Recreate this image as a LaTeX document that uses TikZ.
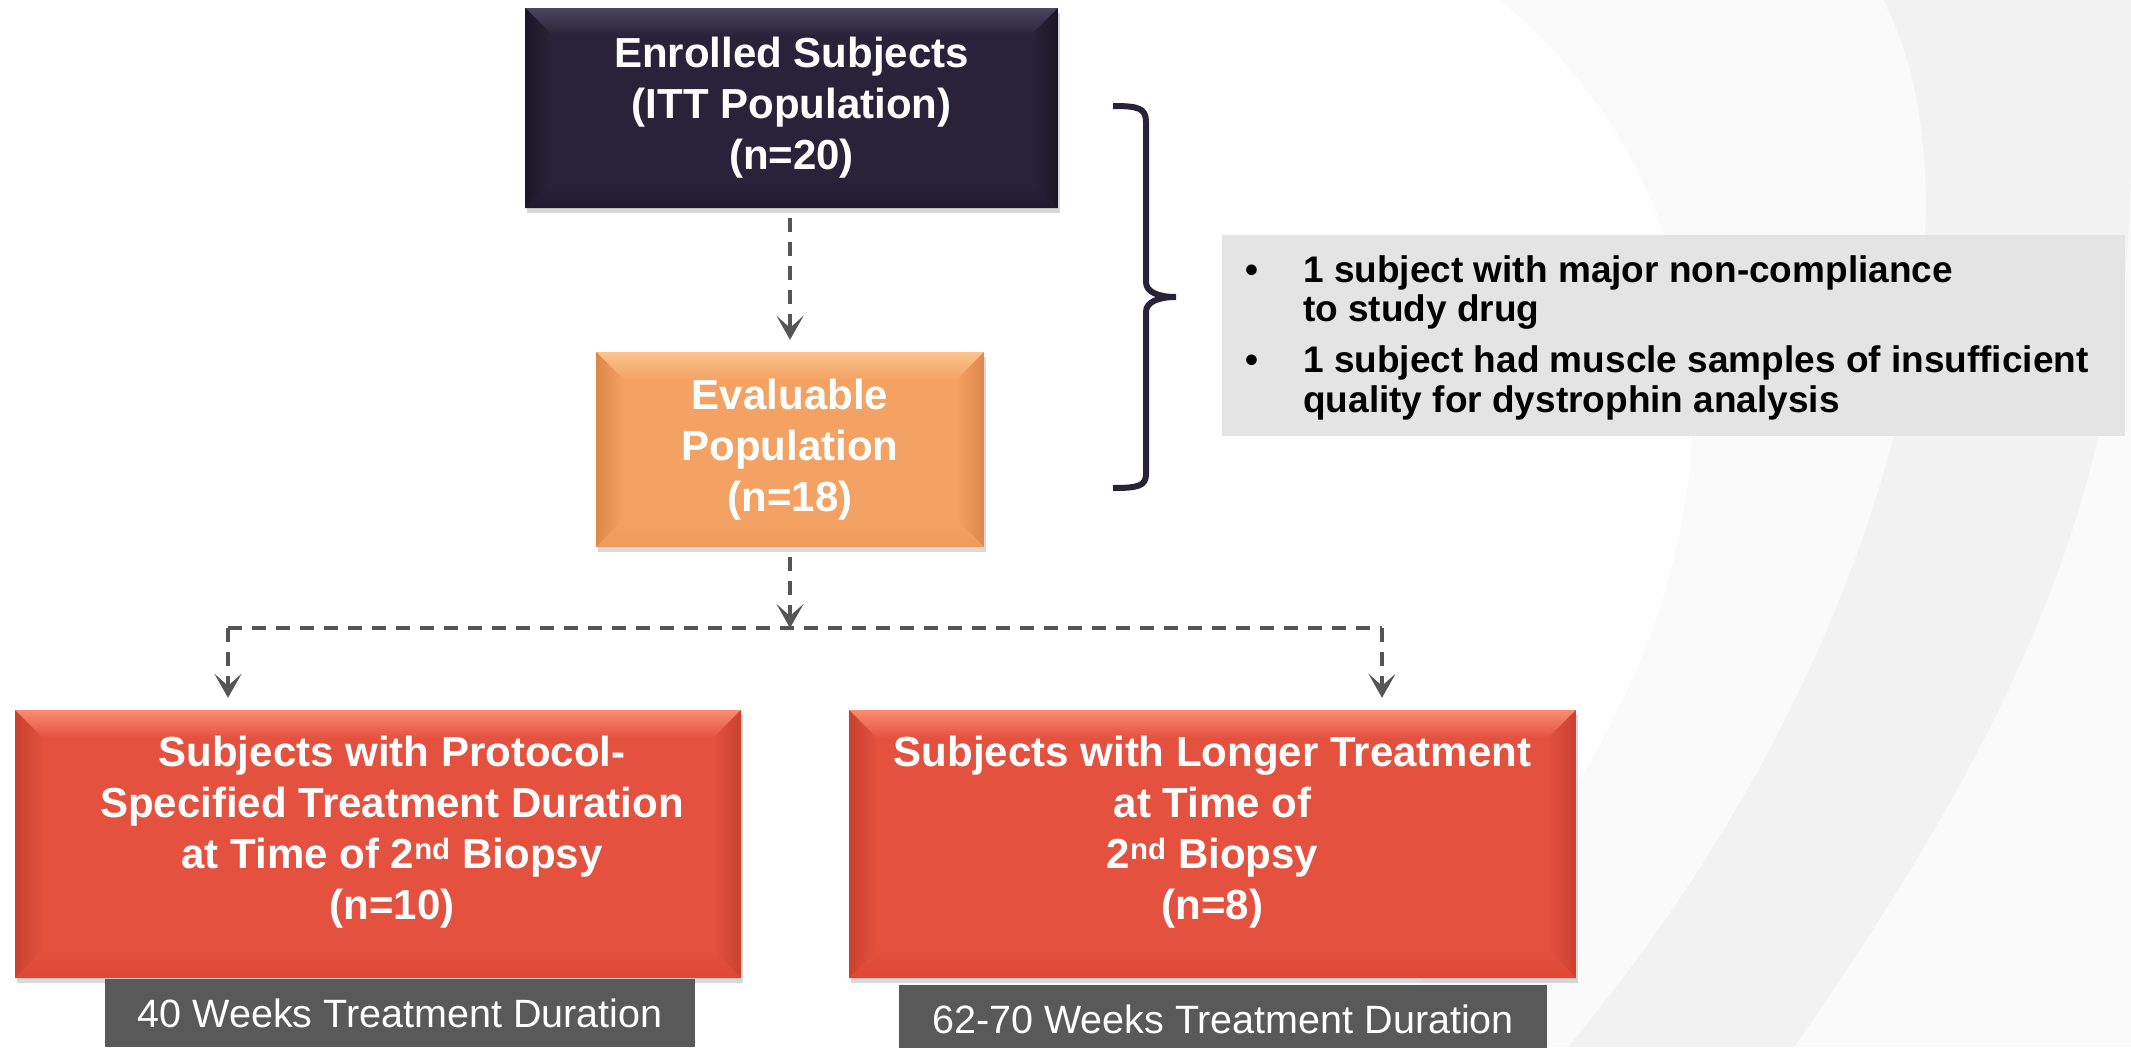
\documentclass[tikz,border=0pt]{standalone}
\usepackage{fontspec}
\setmainfont{Liberation Sans}
\usetikzlibrary{arrows.meta,shadows,calc}
\definecolor{navy}{HTML}{282339}
\definecolor{navytop}{HTML}{4A4560}
\definecolor{navyside}{HTML}{1B1727}
\definecolor{navybot}{HTML}{1F1B2E}
\definecolor{orbase}{HTML}{F4A263}
\definecolor{ortop}{HTML}{FAC38C}
\definecolor{orside}{HTML}{DD874B}
\definecolor{orbot}{HTML}{EE9A5B}
\definecolor{rdbase}{HTML}{E4513F}
\definecolor{rdtop}{HTML}{FA8C72}
\definecolor{rdside}{HTML}{C9412F}
\definecolor{rdbot}{HTML}{DD4733}
\definecolor{connc}{HTML}{555555}
\definecolor{lblgray}{HTML}{595959}
\definecolor{notegray}{HTML}{E4E4E4}
\begin{document}
\begin{tikzpicture}[x=1pt,y=-1pt,
  bevel/.style n args={5}{fill=#1, path picture={
     \def\bvs{28pt}
     \path (path picture bounding box.north west) coordinate (bvA)
           (path picture bounding box.north east) coordinate (bvB)
           (path picture bounding box.south east) coordinate (bvC)
           (path picture bounding box.south west) coordinate (bvD);
     \shade[top color=#2, bottom color=#1] (bvA) -- (bvB) -- ([shift={(-\bvs,-\bvs)}]bvB) -- ([shift={(\bvs,-\bvs)}]bvA) -- cycle;
     \shade[left color=#3, right color=#1] (bvA) -- ([shift={(\bvs,-\bvs)}]bvA) -- ([shift={(\bvs,\bvs)}]bvD) -- (bvD) -- cycle;
     \shade[right color=#3, left color=#1] (bvB) -- ([shift={(-\bvs,-\bvs)}]bvB) -- ([shift={(-\bvs,\bvs)}]bvC) -- (bvC) -- cycle;
     \shade[bottom color=#4, top color=#1] (bvD) -- ([shift={(\bvs,\bvs)}]bvD) -- ([shift={(-\bvs,\bvs)}]bvC) -- (bvC) -- cycle;
  }},
  mainbox/.style={rectangle, inner sep=0pt, align=center, text=white,
     font=\bfseries\fontsize{42}{51}\selectfont,
     drop shadow={opacity=0.3, shadow xshift=2pt, shadow yshift=-5pt}},
  lblbox/.style={rectangle, inner sep=0pt, fill=lblgray, text=white,
     font=\fontsize{39.5}{45}\selectfont},
  noteline/.style={anchor=base west, inner sep=0pt, font=\bfseries\fontsize{37}{40}\selectfont},
  dline/.style={draw=connc, line width=4pt, dash pattern=on 14pt off 10pt},
  conn/.style={dline, -{Stealth[length=24pt,width=27pt,inset=12pt]}}
]
\useasboundingbox (0,0) rectangle (2131,1047);
\fill[white] (0,0) rectangle (2131,1047);
% background swoosh
\fill[black!2] (1500,0) .. controls (1800,250) and (1750,700) .. (1350,1047) -- (2131,1047) -- (2131,0) -- cycle;
\fill[black!5] (1883,0) .. controls (1990,200) and (1900,650) .. (1568,1047)
   -- (1794,1047) .. controls (2000,750) and (2131,500) .. (2131,150) -- (2131,0) -- cycle;

% boxes
\node[mainbox, bevel={navy}{navytop}{navyside}{navybot}{},
      minimum width=533pt, minimum height=200pt] (enr) at (791.5,108)
      {Enrolled Subjects\\(ITT Population)\\(n=20)};
\node[mainbox, bevel={orbase}{ortop}{orside}{orbot}{},
      minimum width=388pt, minimum height=195pt] (eva) at (790,449.5)
      {Evaluable\\Population\\(n=18)};
\node[mainbox, bevel={rdbase}{rdtop}{rdside}{rdbot}{},
      minimum width=726pt, minimum height=268pt] (redL) at (378,844)
      {\hspace*{28pt}Subjects with Protocol-\\\hspace*{28pt}Specified Treatment Duration\\\hspace*{28pt}at Time of 2\textsuperscript{nd} Biopsy\\\hspace*{28pt}(n=10)\\[-19pt]};
\node[mainbox, bevel={rdbase}{rdtop}{rdside}{rdbot}{},
      minimum width=727pt, minimum height=268pt] (redR) at (1212.5,844)
      {Subjects with Longer Treatment\\at Time of\\2\textsuperscript{nd} Biopsy\\(n=8)\\[-19pt]};

% duration labels
\node[lblbox, minimum width=590pt, minimum height=68pt] (durL) at (400,1013)
      {40 Weeks Treatment Duration};
\node[lblbox, minimum width=648pt, minimum height=68pt] (durR) at (1223,1019)
      {62-70 Weeks Treatment Duration};

% note box
\node[rectangle, fill=notegray, inner sep=0pt, minimum width=903pt, minimum height=201pt] (note) at (1673.5,335.5) {};
\node[noteline, anchor=base] (b1) at (1252,282) {\textbullet};
\node[noteline] (n1) at (1303,282) {1 subject with major non-compliance};
\node[noteline] (n2) at (1303,321) {to study drug};
\node[noteline, anchor=base] (b2) at (1252,372) {\textbullet};
\node[noteline] (n3) at (1303,372) {1 subject had muscle samples of insufficient};
\node[noteline] (n4) at (1303,412) {quality for dystrophin analysis};

% brace
\draw[navy, line width=6pt, line join=miter]
  (1113,106) .. controls (1138,106) and (1146,108) .. (1146,122)
  -- (1146,282) .. controls (1146,292) and (1158,297) .. (1176,297)
  .. controls (1158,297) and (1146,302) .. (1146,312)
  -- (1146,474) .. controls (1146,486) and (1138,488) .. (1113,488);

% connectors
\coordinate (jn) at (790,628);
\coordinate (jl) at (228,628);
\coordinate (jr) at (1382,628);
\draw[conn, shorten <=10pt, shorten >=12pt] (eva.north |- enr.south) -- (eva.north);
\draw[conn, shorten <=10pt] (eva.south) -- (jn);
\draw[dline] (jl) -- (jr);
\draw[conn, shorten >=12pt] (jl) -- (jl |- redL.north);
\draw[conn, shorten >=12pt] (jr) -- (jr |- redR.north);
\end{tikzpicture}
\end{document}
